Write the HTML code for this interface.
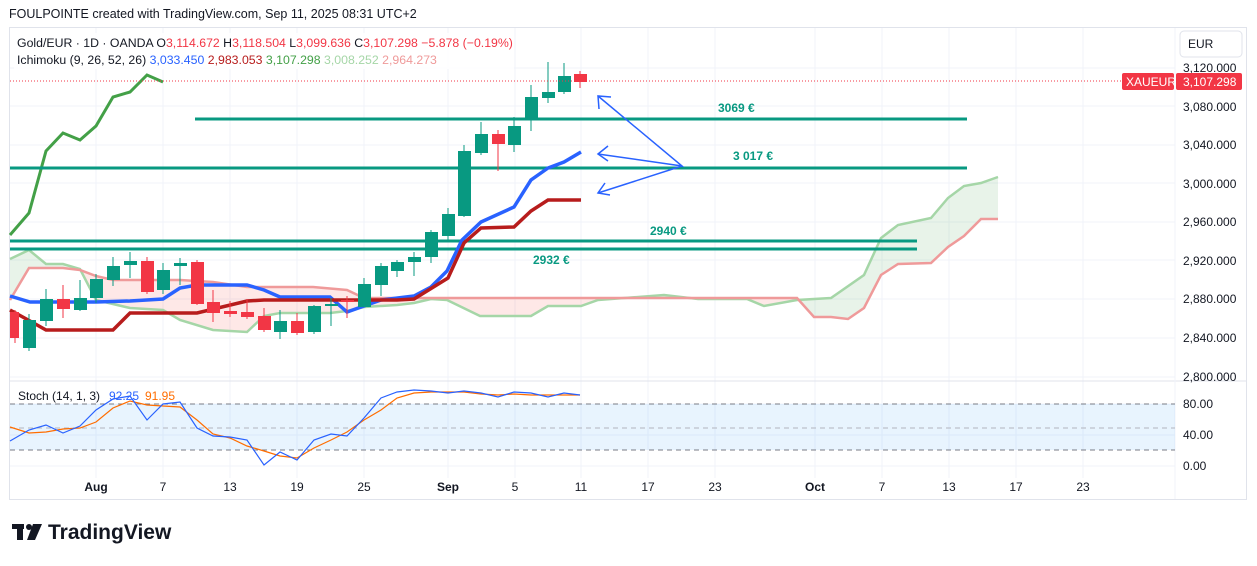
<!DOCTYPE html>
<html><head><meta charset="utf-8"><style>
body{margin:0;background:#fff;width:1257px;height:561px;overflow:hidden;font-family:"Liberation Sans",sans-serif}
svg text{font-family:"Liberation Sans",sans-serif}
</style></head><body>
<svg width="1257" height="561" viewBox="0 0 1257 561" xmlns="http://www.w3.org/2000/svg">
<text x="9" y="18" font-size="12.5" fill="#131722">FOULPOINTE created with TradingView.com, Sep 11, 2025 08:31 UTC+2</text>
<rect x="9.5" y="27.5" width="1237" height="472" fill="none" stroke="#e0e3eb"/>
<g stroke="#f0f3fa" stroke-width="1">
<line x1="10" y1="68" x2="1175" y2="68"/><line x1="10" y1="106" x2="1175" y2="106"/><line x1="10" y1="145" x2="1175" y2="145"/><line x1="10" y1="183" x2="1175" y2="183"/><line x1="10" y1="222" x2="1175" y2="222"/><line x1="10" y1="260" x2="1175" y2="260"/><line x1="10" y1="299" x2="1175" y2="299"/><line x1="10" y1="338" x2="1175" y2="338"/><line x1="10" y1="377" x2="1175" y2="377"/>
<line x1="10" y1="404" x2="1175" y2="404"/><line x1="10" y1="435" x2="1175" y2="435"/><line x1="10" y1="466" x2="1175" y2="466"/>
<line x1="96" y1="28" x2="96" y2="478"/><line x1="163" y1="28" x2="163" y2="478"/><line x1="230" y1="28" x2="230" y2="478"/><line x1="297" y1="28" x2="297" y2="478"/><line x1="364" y1="28" x2="364" y2="478"/><line x1="448" y1="28" x2="448" y2="478"/><line x1="515" y1="28" x2="515" y2="478"/><line x1="581" y1="28" x2="581" y2="478"/><line x1="648" y1="28" x2="648" y2="478"/><line x1="715" y1="28" x2="715" y2="478"/><line x1="815" y1="28" x2="815" y2="478"/><line x1="882" y1="28" x2="882" y2="478"/><line x1="949" y1="28" x2="949" y2="478"/><line x1="1016" y1="28" x2="1016" y2="478"/><line x1="1083" y1="28" x2="1083" y2="478"/>
</g>
<line x1="10" y1="381" x2="1247" y2="381" stroke="#e0e3eb"/>
<line x1="1175" y1="28" x2="1175" y2="499" stroke="#f0f3fa"/>
<defs>
<clipPath id="aboveB"><polygon points="10,28 10,300 29,268 63,268 80,270 96,276 113,280 180,280 213,282 247,287 264,287 313,287 347,290 364,298 414,298 797,298 814,317 831,317 848,319 864,308 881,275 898,264 931,263 948,247 964,236 981,219 998,219 998,28"/></clipPath>
<clipPath id="belowB"><polygon points="10,380 10,300 29,268 63,268 80,270 96,276 113,280 180,280 213,282 247,287 264,287 313,287 347,290 364,298 414,298 797,298 814,317 831,317 848,319 864,308 881,275 898,264 931,263 948,247 964,236 981,219 998,219 998,380"/></clipPath>
</defs>
<polygon clip-path="url(#aboveB)" fill-rule="evenodd" fill="rgba(67,160,71,0.12)" points="10,259 29,250 46,264 63,264 80,269 96,300 130,308 163,310 180,320 213,330 247,332 264,316 280,313 330,313 347,311 364,307 397,305 414,303 431,299 447,300 480,316 531,316 548,306 581,306 598,300 664,295 681,297 698,299 747,299 764,306 797,300 831,298 864,275 881,238 898,225 931,218 948,198 964,186 981,183 998,177 998,219 981,219 964,236 948,247 931,263 898,264 881,275 864,308 848,319 831,317 814,317 797,298 414,298 364,298 347,290 313,287 264,287 247,287 213,282 180,280 113,280 96,276 80,270 63,268 29,268 10,300"/>
<polygon clip-path="url(#belowB)" fill-rule="evenodd" fill="rgba(244,67,54,0.12)" points="10,259 29,250 46,264 63,264 80,269 96,300 130,308 163,310 180,320 213,330 247,332 264,316 280,313 330,313 347,311 364,307 397,305 414,303 431,299 447,300 480,316 531,316 548,306 581,306 598,300 664,295 681,297 698,299 747,299 764,306 797,300 831,298 864,275 881,238 898,225 931,218 948,198 964,186 981,183 998,177 998,219 981,219 964,236 948,247 931,263 898,264 881,275 864,308 848,319 831,317 814,317 797,298 414,298 364,298 347,290 313,287 264,287 247,287 213,282 180,280 113,280 96,276 80,270 63,268 29,268 10,300"/>
<polyline fill="none" stroke="#a5d6a7" stroke-width="2.5" points="10,259 29,250 46,264 63,264 80,269 96,300 130,308 163,310 180,320 213,330 247,332 264,316 280,313 330,313 347,311 364,307 397,305 414,303 431,299 447,300 480,316 531,316 548,306 581,306 598,300 664,295 681,297 698,299 747,299 764,306 797,300 831,298 864,275 881,238 898,225 931,218 948,198 964,186 981,183 998,177"/>
<polyline fill="none" stroke="#ef9a9a" stroke-width="2.5" points="10,300 29,268 63,268 80,270 96,276 113,280 180,280 213,282 247,287 264,287 313,287 347,290 364,298 414,298 797,298 814,317 831,317 848,319 864,308 881,275 898,264 931,263 948,247 964,236 981,219 998,219"/>
<polyline fill="none" stroke="#43a047" stroke-width="3" points="10,235 29,213 46,151 63,133 80,140 96,126 113,97 130,92 147,75 163,82"/>
<g stroke="#089981" stroke-width="3">
<line x1="195" y1="119" x2="967" y2="119"/><line x1="10" y1="168" x2="967" y2="168"/><line x1="10" y1="241" x2="917" y2="241"/><line x1="10" y1="249" x2="917" y2="249"/>
</g>
<g fill="#089981" font-size="12" font-weight="bold">
<text x="718" y="112">3069 €</text><text x="733" y="160">3 017 €</text><text x="650" y="235">2940 €</text><text x="533" y="264">2932 €</text>
</g>
<polyline fill="none" stroke="#2962ff" stroke-width="3.5" points="10,296 30,302 96,302 130,301 163,299 180,288 197,285 247,285 264,290 280,297 330,297 347,312 364,306 381,300 414,296 431,287 447,271 462,240 481,222 514,207 531,180 548,168 564,162 581,152"/>
<polyline fill="none" stroke="#b71c1c" stroke-width="3.5" points="10,310 30,321 46,330 113,330 130,313 197,313 247,301 264,300 397,300 414,299 448,278 464,243 481,228 514,227 531,211 548,200 581,200"/>
<g stroke-width="1">
<line x1="15" y1="310" x2="15" y2="343" stroke="#f23645"/><rect x="10" y="312" width="9" height="26" fill="#f23645"/>
<line x1="29" y1="314" x2="29" y2="351" stroke="#089981"/><rect x="23" y="320" width="13" height="28" fill="#089981"/>
<line x1="46" y1="289" x2="46" y2="326" stroke="#089981"/><rect x="40" y="299" width="13" height="22" fill="#089981"/>
<line x1="63" y1="285" x2="63" y2="318" stroke="#f23645"/><rect x="57" y="299" width="13" height="10" fill="#f23645"/>
<line x1="80" y1="280" x2="80" y2="311" stroke="#089981"/><rect x="74" y="298" width="13" height="12" fill="#089981"/>
<line x1="96" y1="274" x2="96" y2="303" stroke="#089981"/><rect x="90" y="279" width="13" height="19" fill="#089981"/>
<line x1="113" y1="257" x2="113" y2="286" stroke="#089981"/><rect x="107" y="266" width="13" height="14" fill="#089981"/>
<line x1="130" y1="252" x2="130" y2="278" stroke="#089981"/><rect x="124" y="261" width="13" height="4" fill="#089981"/>
<line x1="147" y1="257" x2="147" y2="294" stroke="#f23645"/><rect x="141" y="261" width="13" height="31" fill="#f23645"/>
<line x1="163" y1="263" x2="163" y2="294" stroke="#089981"/><rect x="157" y="270" width="13" height="20" fill="#089981"/>
<line x1="180" y1="258" x2="180" y2="285" stroke="#089981"/><rect x="174" y="263" width="13" height="3" fill="#089981"/>
<line x1="197" y1="260" x2="197" y2="305" stroke="#f23645"/><rect x="191" y="262" width="13" height="42" fill="#f23645"/>
<line x1="213" y1="290" x2="213" y2="322" stroke="#f23645"/><rect x="207" y="302" width="13" height="11" fill="#f23645"/>
<line x1="230" y1="301" x2="230" y2="317" stroke="#f23645"/><rect x="224" y="311" width="13" height="3" fill="#f23645"/>
<line x1="247" y1="299" x2="247" y2="319" stroke="#f23645"/><rect x="241" y="312" width="13" height="5" fill="#f23645"/>
<line x1="264" y1="308" x2="264" y2="332" stroke="#f23645"/><rect x="258" y="316" width="13" height="14" fill="#f23645"/>
<line x1="280" y1="310" x2="280" y2="339" stroke="#089981"/><rect x="274" y="321" width="13" height="11" fill="#089981"/>
<line x1="297" y1="313" x2="297" y2="335" stroke="#f23645"/><rect x="291" y="321" width="13" height="12" fill="#f23645"/>
<line x1="314" y1="305" x2="314" y2="334" stroke="#089981"/><rect x="308" y="306" width="13" height="26" fill="#089981"/>
<line x1="331" y1="298" x2="331" y2="326" stroke="#089981"/><rect x="325" y="304" width="13" height="2" fill="#089981"/>
<line x1="347" y1="296" x2="347" y2="318" stroke="#f23645"/><rect x="341" y="300" width="13" height="2" fill="#f23645"/>
<line x1="364" y1="278" x2="364" y2="307" stroke="#089981"/><rect x="358" y="284" width="13" height="23" fill="#089981"/>
<line x1="381" y1="263" x2="381" y2="296" stroke="#089981"/><rect x="375" y="266" width="13" height="19" fill="#089981"/>
<line x1="397" y1="260" x2="397" y2="277" stroke="#089981"/><rect x="391" y="262" width="13" height="9" fill="#089981"/>
<line x1="414" y1="252" x2="414" y2="276" stroke="#089981"/><rect x="408" y="257" width="13" height="5" fill="#089981"/>
<line x1="431" y1="230" x2="431" y2="263" stroke="#089981"/><rect x="425" y="232" width="13" height="25" fill="#089981"/>
<line x1="448" y1="208" x2="448" y2="240" stroke="#089981"/><rect x="442" y="214" width="13" height="22" fill="#089981"/>
<line x1="464" y1="145" x2="464" y2="217" stroke="#089981"/><rect x="458" y="151" width="13" height="65" fill="#089981"/>
<line x1="481" y1="122" x2="481" y2="155" stroke="#089981"/><rect x="475" y="134" width="13" height="19" fill="#089981"/>
<line x1="498" y1="130" x2="498" y2="171" stroke="#f23645"/><rect x="492" y="134" width="13" height="10" fill="#f23645"/>
<line x1="514" y1="117" x2="514" y2="152" stroke="#089981"/><rect x="508" y="126" width="13" height="19" fill="#089981"/>
<line x1="531" y1="85" x2="531" y2="131" stroke="#089981"/><rect x="525" y="97" width="13" height="21" fill="#089981"/>
<line x1="548" y1="62" x2="548" y2="103" stroke="#089981"/><rect x="542" y="92" width="13" height="6" fill="#089981"/>
<line x1="564" y1="63" x2="564" y2="94" stroke="#089981"/><rect x="558" y="76" width="13" height="16" fill="#089981"/>
<line x1="580" y1="71" x2="580" y2="88" stroke="#f23645"/><rect x="574" y="74" width="13" height="8" fill="#f23645"/>
</g>
<line x1="10" y1="81" x2="1122" y2="81" stroke="#f23645" stroke-dasharray="1,2"/>
<g fill="none" stroke="#2962ff" stroke-width="1.5">
<polyline points="598,96 682,166 598,154"/><polyline points="682,166 598,193"/>
<polyline points="599,109 598,96 611,97"/><polyline points="608,146 598,154 608,161"/><polyline points="605,183 598,193 610,195"/>
</g>
<rect x="10" y="404" width="1165" height="46" fill="rgba(33,150,243,0.1)"/>
<g stroke="#787b86" stroke-dasharray="5,4"><line x1="10" y1="404" x2="1175" y2="404"/><line x1="10" y1="450" x2="1175" y2="450"/></g>
<line x1="10" y1="428" x2="1175" y2="428" stroke="#b2b5be" stroke-dasharray="5,4"/>
<polyline fill="none" stroke="#ff6d00" stroke-width="1.2" points="10,427 29,433 46,432 63,429 80,428 96,422 113,408 130,401 147,405 163,406 180,407 197,420 213,434 230,438 247,446 264,451 280,456 297,458 314,448 331,440 347,432 364,420 381,410 397,398 414,393 431,392 448,392 464,392 481,394 498,395 514,394 531,395 548,395 564,395 580,395"/>
<polyline fill="none" stroke="#2962ff" stroke-width="1.2" points="10,441 29,430 46,425 63,433 80,426 96,410 113,399 130,396 147,420 163,404 180,402 197,428 213,436 230,437 247,440 264,465 280,452 297,460 314,440 331,434 347,436 364,418 381,398 397,392 414,390 431,391 448,393 464,391 481,393 498,397 514,392 531,393 548,397 564,393 580,395"/>
<text x="18" y="400" font-size="12" fill="#131722">Stoch (14, 1, 3)</text>
<text x="109" y="400" font-size="12" fill="#2962ff">92.25</text><text x="145" y="400" font-size="12" fill="#ff6d00">91.95</text>
<rect x="14" y="33" width="500" height="36" fill="rgba(255,255,255,0.85)"/>
<text x="17" y="47" font-size="12.3" fill="#131722">Gold/EUR · 1D · OANDA  O<tspan fill="#f23645">3,114.672</tspan>  H<tspan fill="#f23645">3,118.504</tspan>  L<tspan fill="#f23645">3,099.636</tspan>  C<tspan fill="#f23645">3,107.298  −5.878 (−0.19%)</tspan></text>
<text x="17" y="64" font-size="12.3" fill="#131722">Ichimoku (9, 26, 52, 26)  <tspan fill="#2962ff">3,033.450</tspan>  <tspan fill="#b71c1c">2,983.053</tspan>  <tspan fill="#43a047">3,107.298</tspan>  <tspan fill="#a5d6a7">3,008.252</tspan>  <tspan fill="#ef9a9a">2,964.273</tspan></text>
<rect x="1180" y="31" width="62" height="26" rx="4" fill="#fff" stroke="#e0e3eb"/>
<text x="1188" y="48" font-size="12" fill="#131722">EUR</text>
<g font-size="12" fill="#131722">
<text x="1183" y="72">3,120.000</text><text x="1183" y="111">3,080.000</text><text x="1183" y="149">3,040.000</text><text x="1183" y="188">3,000.000</text><text x="1183" y="226">2,960.000</text><text x="1183" y="265">2,920.000</text><text x="1183" y="303">2,880.000</text><text x="1183" y="342">2,840.000</text><text x="1183" y="381">2,800.000</text>
<text x="1183" y="408">80.00</text><text x="1183" y="439">40.00</text><text x="1183" y="470">0.00</text>
</g>
<rect x="1122" y="73" width="52" height="17" rx="2" fill="#f23645"/>
<text x="1126" y="86" font-size="12" fill="#fff">XAUEUR</text>
<rect x="1176" y="73" width="66" height="17" rx="2" fill="#f23645"/>
<text x="1183" y="86" font-size="12" fill="#fff">3,107.298</text>
<g font-size="12" fill="#131722" text-anchor="middle">
<text x="96" y="491" font-weight="bold">Aug</text><text x="163" y="491">7</text><text x="230" y="491">13</text><text x="297" y="491">19</text><text x="364" y="491">25</text><text x="448" y="491" font-weight="bold">Sep</text><text x="515" y="491">5</text><text x="581" y="491">11</text><text x="648" y="491">17</text><text x="715" y="491">23</text><text x="815" y="491" font-weight="bold">Oct</text><text x="882" y="491">7</text><text x="949" y="491">13</text><text x="1016" y="491">17</text><text x="1083" y="491">23</text>
</g>
<g fill="#131722">
<rect x="12" y="524" width="12" height="5"/><rect x="17" y="524" width="6" height="16"/>
<circle cx="29" cy="527" r="3"/><polygon points="33,524 42,524 35,540 27,540"/>
</g>
<text x="48" y="539" font-size="21" font-weight="bold" fill="#131722">TradingView</text>
</svg>
</body></html>
